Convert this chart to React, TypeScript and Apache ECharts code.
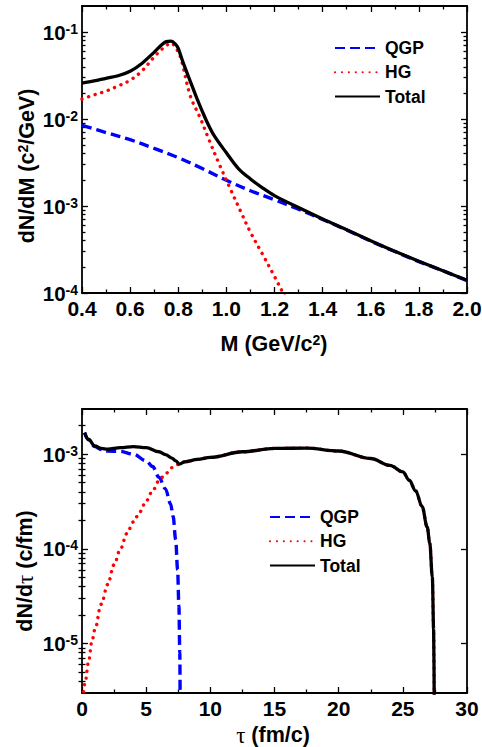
import React, { useEffect, useRef } from "react";
import * as echarts from "echarts";

// ---------- Top panel: dN/dM vs M ----------
const topMassQGP = [0.4, 0.5, 0.6, 0.7, 0.8, 0.9, 1.0, 1.1, 1.2, 1.3, 1.4, 1.5, 1.6, 1.7, 1.8, 1.9, 2.0];
const topQGP = [8.5e-3, 7.0e-3, 5.8e-3, 4.6e-3, 3.6e-3, 2.7e-3, 1.98e-3, 1.5e-3, 1.18e-3, 9.2e-4, 7.0e-4, 5.3e-4, 3.95e-4, 3.0e-4, 2.3e-4, 1.8e-4, 1.39e-4];

const topMassHG = [0.4, 0.45, 0.5, 0.55, 0.6, 0.65, 0.7, 0.73, 0.75, 0.77, 0.79, 0.81, 0.85, 0.89, 0.93, 0.97, 1.02, 1.06, 1.1, 1.15, 1.2, 1.24, 1.26];
const topHG = [1.7e-2, 1.9e-2, 2.1e-2, 2.4e-2, 2.8e-2, 3.6e-2, 5.2e-2, 6.3e-2, 7.0e-2, 7.5e-2, 6.6e-2, 5.1e-2, 1.85e-2, 1.05e-2, 5.6e-3, 3.05e-3, 1.5e-3, 8.6e-4, 5.0e-4, 2.8e-4, 1.55e-4, 9.5e-5, 7.7e-5];

const topMassTotal = [0.4, 0.45, 0.5, 0.55, 0.6, 0.65, 0.7, 0.73, 0.75, 0.77, 0.79, 0.8, 0.82, 0.85, 0.88, 0.9, 0.92, 0.95, 1.0, 1.05, 1.1, 1.15, 1.2, 1.3, 1.4, 1.5, 1.6, 1.7, 1.8, 1.9, 2.0];
const topTotal = [2.6e-2, 2.75e-2, 2.95e-2, 3.15e-2, 3.55e-2, 4.4e-2, 5.9e-2, 7.1e-2, 7.8e-2, 7.9e-2, 7.2e-2, 6.5e-2, 4.5e-2, 2.72e-2, 1.66e-2, 1.23e-2, 9.2e-3, 6.4e-3, 4.1e-3, 2.7e-3, 2.05e-3, 1.62e-3, 1.32e-3, 9.6e-4, 7.1e-4, 5.35e-4, 4.0e-4, 3.02e-4, 2.32e-4, 1.8e-4, 1.4e-4];

// ---------- Bottom panel: dN/dtau vs tau ----------
const tauQGP = [0.2, 0.5, 1, 1.5, 2, 3, 4, 5, 5.5, 6, 6.5, 6.9, 7.1, 7.3, 7.45, 7.55, 7.62, 7.65];
const dndtQGP = [1.69e-3, 1.42e-3, 1.2e-3, 1.12e-3, 1.08e-3, 1.07e-3, 1.0e-3, 8.5e-4, 7.4e-4, 5.7e-4, 4.3e-4, 3.0e-4, 2.2e-4, 1.25e-4, 6e-5, 2.5e-5, 8e-6, 2e-6];

const tauHG = [0.12, 0.26, 0.5, 0.78, 1, 1.5, 2, 2.5, 3, 3.5, 4, 4.5, 5, 5.5, 6, 6.5, 7, 7.6, 8, 9, 10, 12.5, 15, 17.5, 20, 22.5, 24, 25, 25.5, 26, 26.5, 26.9, 27.1, 27.3, 27.4, 27.45];
const dndtHG = [3.1e-6, 4.0e-6, 6.3e-6, 1.06e-5, 1.4e-5, 2.6e-5, 4.2e-5, 6.8e-5, 1.0e-4, 1.45e-4, 1.92e-4, 2.45e-4, 3.2e-4, 4.1e-4, 5.25e-4, 6.2e-4, 7.2e-4, 7.85e-4, 8.3e-4, 8.8e-4, 9.25e-4, 1.06e-3, 1.15e-3, 1.16e-3, 1.08e-3, 9.0e-4, 7.6e-4, 6.5e-4, 5.3e-4, 4.1e-4, 2.8e-4, 1.7e-4, 1.15e-4, 5e-5, 1.4e-5, 2e-6];

const tauTotal = [0.2, 0.5, 1, 1.5, 2, 3, 4, 5, 6, 6.5, 7, 7.3, 7.6, 8, 9, 10, 12.5, 15, 17.5, 20, 22.5, 24, 25, 25.5, 26, 26.5, 26.9, 27.1, 27.3, 27.4, 27.45];
const dndtTotal = [1.69e-3, 1.44e-3, 1.22e-3, 1.15e-3, 1.13e-3, 1.17e-3, 1.2e-3, 1.17e-3, 1.06e-3, 9.9e-4, 9.1e-4, 8.5e-4, 7.85e-4, 8.3e-4, 8.8e-4, 9.25e-4, 1.06e-3, 1.15e-3, 1.16e-3, 1.08e-3, 9.0e-4, 7.6e-4, 6.5e-4, 5.3e-4, 4.1e-4, 2.8e-4, 1.7e-4, 1.15e-4, 5e-5, 1.4e-5, 2e-6];

// ---------- Axis definitions ----------
const legendNames = ["QGP", "HG", "Total"];
const topXRange = [0.4, 2.0];
const topYRange = [1e-4, 0.2];
const topYExponents = [-4, -3, -2, -1];
const bottomXRange = [0, 30];
const bottomYRange = [3e-6, 3e-3];
const bottomYExponents = [-5, -4, -3];

const FONT = "'Liberation Sans', Arial, sans-serif";
const SERIF = "'Liberation Serif', 'DejaVu Serif', serif";

function minorLogTicks(lo: number, hi: number): number[] {
  const out: number[] = [];
  const a = Math.floor(Math.log10(lo));
  const b = Math.ceil(Math.log10(hi));
  for (let n = a; n <= b; n++) {
    for (let k = 2; k <= 9; k++) {
      const v = k * Math.pow(10, n);
      if (v > lo * 1.0001 && v < hi * 0.9999) out.push(Math.log10(v));
    }
  }
  return out;
}

const toLog = (xs: number[], ys: number[]) => xs.map((x, i) => [x, Math.log10(ys[i])]);

const tickLine = { color: "#000", width: 1.3 };
const labelRich = {
  b: { fontSize: 20.5, fontWeight: "bold", fontFamily: FONT, color: "#000" },
  s: { fontSize: 14, fontWeight: "bold", fontFamily: FONT, color: "#000", verticalAlign: "top", padding: [0, 0, 7, 0] },
};

function makeXAxes(grid: number, range: number[], interval: number, fmt: (v: number) => string) {
  const base = {
    gridIndex: grid,
    type: "value",
    min: range[0],
    max: range[1],
    interval,
    axisLine: { show: true, onZero: false, lineStyle: { color: "#000", width: 1.8 } },
    axisTick: { show: true, inside: true, length: 6, lineStyle: tickLine },
    minorTick: { show: true, splitNumber: 2, length: 3.5, lineStyle: tickLine },
    splitLine: { show: false },
    minorSplitLine: { show: false },
  };
  return [
    {
      ...base,
      position: "bottom",
      axisLabel: { show: true, formatter: fmt, fontSize: 21, fontWeight: "bold", fontFamily: FONT, color: "#000", margin: 5 },
    },
    { ...base, position: "top", axisLabel: { show: false } },
  ];
}

function makeYAxes(grid: number, range: number[], exps: number[]) {
  const min = Math.log10(range[0]);
  const max = Math.log10(range[1]);
  const minors = minorLogTicks(range[0], range[1]);
  const base = {
    gridIndex: grid,
    type: "value",
    min,
    max,
    splitLine: { show: false },
    minorTick: { show: false },
    minorSplitLine: { show: false },
  };
  const major = (pos: string, label: boolean) => ({
    ...base,
    position: pos,
    axisLine: { show: true, onZero: false, lineStyle: { color: "#000", width: 1.8 } },
    axisTick: { show: true, inside: true, length: 6, lineStyle: tickLine, customValues: exps },
    axisLabel: label
      ? {
          show: true,
          customValues: exps,
          formatter: (v: number) => `{b|10}{s|${Math.round(v)}}`,
          rich: labelRich,
          margin: 4,
        }
      : { show: false },
  });
  const minor = (pos: string) => ({
    ...base,
    position: pos,
    axisLine: { show: false },
    axisTick: { show: true, inside: true, length: 3.5, lineStyle: tickLine, customValues: minors },
    axisLabel: { show: false },
  });
  return [major("left", true), minor("left"), major("right", false), minor("right")];
}

function lineSeries(name: string, xi: number, yi: number, data: number[][], monotone: boolean) {
  const styles: Record<string, any> = {
    QGP: { color: "#0000ff", width: 3.4, type: [10, 5] },
    HG: { color: "#ff0000", width: 3.4, type: [0.1, 6.8], cap: "round" },
    Total: { color: "#000000", width: 3.3 },
  };
  return {
    name,
    type: "line",
    xAxisIndex: xi,
    yAxisIndex: yi,
    data,
    symbol: "none",
    showSymbol: false,
    smooth: 0.35,
    smoothMonotone: monotone ? "x" : undefined,
    clip: true,
    lineStyle: styles[name],
    itemStyle: { color: styles[name].color },
    z: name === "Total" ? 4 : name === "HG" ? 3 : 2,
  };
}

const titleRich = {
  b: { fontSize: 21.5, fontWeight: "bold", fontFamily: FONT, fill: "#000" },
  s: { fontSize: 14, fontWeight: "bold", fontFamily: FONT, fill: "#000", verticalAlign: "top", padding: [0, 0, 8, 0] },
  t: { fontSize: 23, fontWeight: "normal", fontFamily: SERIF, fill: "#000" },
};

export default function App() {
  const ref = useRef<HTMLDivElement>(null);
  useEffect(() => {
    document.body.style.margin = "0";
    const chart = echarts.init(ref.current!, undefined, { renderer: "svg" });
    const legendCommon = {
      orient: "vertical",
      itemWidth: 45,
      itemHeight: 12,
      itemGap: 6.3,
      data: legendNames,
      selectedMode: false,
      itemStyle: { opacity: 0 },
      textStyle: { fontSize: 17.5, fontWeight: "bold", fontFamily: FONT, color: "#000", lineHeight: 17.5 },
      padding: 0,
    };
    chart.setOption({
      animation: false,
      backgroundColor: "#ffffff",
      grid: [
        { left: 82, top: 6, width: 385, height: 287, outerBoundsMode: "none", containLabel: false },
        { left: 82, top: 409, width: 385, height: 284, outerBoundsMode: "none", containLabel: false },
      ],
      xAxis: [
        ...makeXAxes(0, topXRange, 0.2, (v: number) => v.toFixed(1)),
        ...makeXAxes(1, bottomXRange, 5, (v: number) => String(Math.round(v))),
      ],
      yAxis: [...makeYAxes(0, topYRange, topYExponents), ...makeYAxes(1, bottomYRange, bottomYExponents)],
      legend: [
        { ...legendCommon, left: 334, top: 39 },
        { ...legendCommon, left: 269, top: 508 },
      ],
      series: [
        lineSeries("QGP", 0, 0, toLog(topMassQGP, topQGP), false),
        lineSeries("HG", 0, 0, toLog(topMassHG, topHG), false),
        lineSeries("Total", 0, 0, toLog(topMassTotal, topTotal), false),
        lineSeries("QGP", 2, 4, toLog(tauQGP, dndtQGP), true),
        lineSeries("HG", 2, 4, toLog(tauHG, dndtHG), true),
        lineSeries("Total", 2, 4, toLog(tauTotal, dndtTotal), true),
      ],
      graphic: [
        {
          type: "text",
          x: 274,
          y: 344,
          style: { text: "{b|M (GeV/c}{s|2}{b|)}", rich: titleRich, align: "center", verticalAlign: "middle" },
        },
        {
          type: "text",
          x: 27,
          y: 166,
          rotation: Math.PI / 2,
          style: { text: "{b|dN/dM (c}{s|2}{b|/GeV)}", rich: titleRich, align: "center", verticalAlign: "middle" },
        },
        {
          type: "text",
          x: 273,
          y: 735,
          style: { text: "{t|τ}{b| (fm/c)}", rich: titleRich, align: "center", verticalAlign: "middle" },
        },
        {
          type: "text",
          x: 25,
          y: 571,
          rotation: Math.PI / 2,
          style: { text: "{b|dN/d}{t|τ}{b| (c/fm)}", rich: titleRich, align: "center", verticalAlign: "middle" },
        },
      ],
    });
    return () => chart.dispose();
  }, []);
  return <div ref={ref} style={{ width: 482, height: 747, position: "absolute", left: 0, top: 0 }} />;
}
